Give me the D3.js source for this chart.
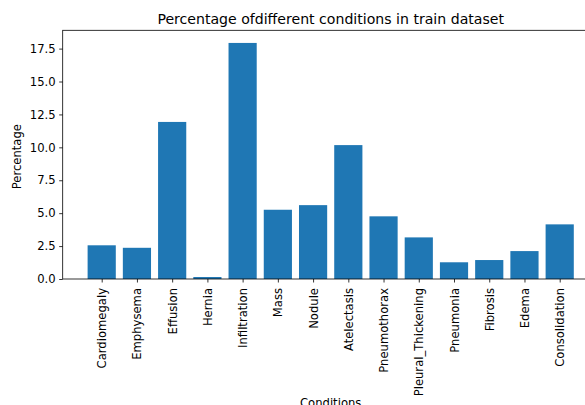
<!DOCTYPE html>
<html><head><meta charset="utf-8">
<script src="https://cdn.jsdelivr.net/npm/d3@7/dist/d3.min.js"></script>
<style>body{margin:0;background:#fff;}svg{display:block;font-family:"DejaVu Sans",sans-serif;}</style>
</head><body><svg id="c" width="585" height="405"></svg>
<script>
const categories = ["Cardiomegaly","Emphysema","Effusion","Hernia","Infiltration","Mass","Nodule","Atelectasis","Pneumothorax","Pleural_Thickening","Pneumonia","Fibrosis","Edema","Consolidation"];
const values = [2.56, 2.37, 11.93, 0.15, 17.93, 5.26, 5.61, 10.17, 4.76, 3.16, 1.27, 1.44, 2.12, 4.15];
const yTicks = [0, 2.5, 5, 7.5, 10, 12.5, 15, 17.5];
const title = "Percentage ofdifferent conditions in train dataset";
const xLabel = "Conditions", yLabel = "Percentage";

const svg = d3.select("#c");
const L = 62.7, R = 598.7, T = 30.3, B = 279;
const n = categories.length;
const x = d3.scaleLinear().domain([-1.107, n - 1 + 1.107]).range([L, R]);
const y = d3.scaleLinear().domain([0, 18.89]).range([B, T]);
const bw = x(0.8) - x(0);

svg.append("g").selectAll("rect").data(values).join("rect")
  .attr("x", (d, i) => x(i - 0.4)).attr("width", bw)
  .attr("y", d => y(d)).attr("height", d => y(0) - y(d))
  .attr("fill", "#1f77b4");

const fs = 11.6;
const yAxis = svg.append("g").attr("transform", `translate(${L},0)`)
  .call(d3.axisLeft(y).tickValues(yTicks).tickFormat(d3.format(".1f")).tickSize(3.5).tickPadding(3.5));
const xAxis = svg.append("g").attr("transform", `translate(0,${B})`)
  .call(d3.axisBottom(x).tickValues(d3.range(n)).tickFormat(i => categories[i]).tickSize(3.5).tickPadding(3.5));
[yAxis, xAxis].forEach(a => {
  a.select(".domain").remove();
  a.selectAll("line").attr("stroke", "#000").attr("stroke-width", 0.8);
  a.selectAll("text").attr("fill", "#000").attr("font-size", fs).attr("font-family", "DejaVu Sans");
});
xAxis.selectAll("text")
  .attr("transform", "rotate(-90)")
  .attr("text-anchor", "end").attr("dy", "0.35em")
  .attr("x", -9).attr("y", 0);

svg.append("rect").attr("x", L).attr("y", T).attr("width", R - L).attr("height", B - T)
  .attr("fill", "none").attr("stroke", "#000").attr("stroke-width", 0.8);

svg.append("text").attr("x", (L + R) / 2).attr("y", 23.5).attr("text-anchor", "middle")
  .attr("font-size", 14.1).attr("fill", "#000").text(title);
svg.append("text").attr("x", (L + R) / 2).attr("y", 406.5).attr("text-anchor", "middle")
  .attr("font-size", fs).attr("fill", "#000").text(xLabel);
svg.append("text").attr("transform", `translate(21,${(T + B) / 2 + 2}) rotate(-90)`)
  .attr("text-anchor", "middle").attr("font-size", fs).attr("fill", "#000").text(yLabel);
</script></body></html>
